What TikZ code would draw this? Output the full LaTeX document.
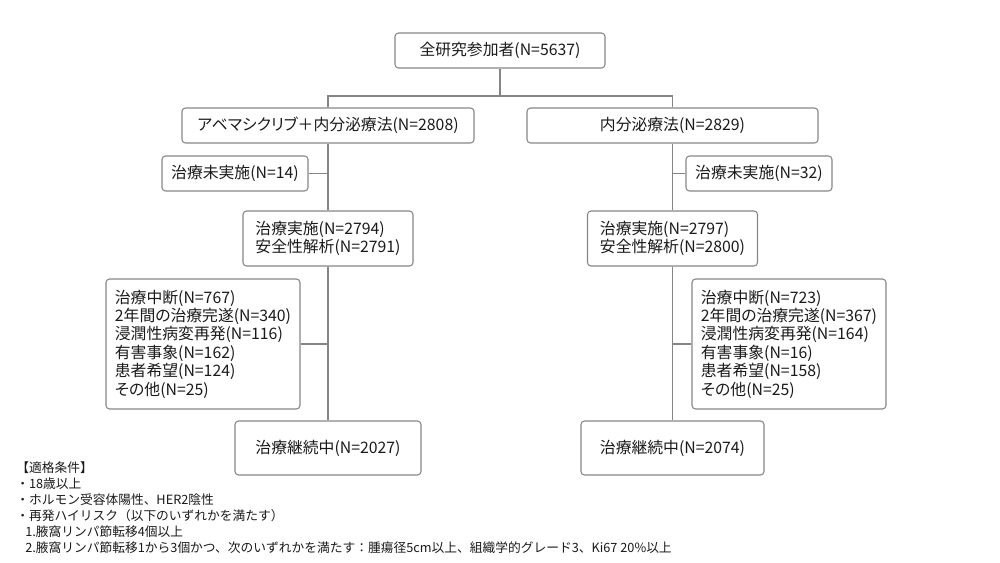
\documentclass[tikz,border=0pt]{standalone}
\usepackage{fontspec}
\setmainfont{Noto Sans CJK JP}
\newfontfamily\boxfont[RawFeature=+palt]{Noto Sans CJK JP}
\usetikzlibrary{positioning}
\definecolor{linegray}{HTML}{858585}
\definecolor{textdark}{HTML}{1A1A1A}
\begin{document}
\begin{tikzpicture}[node distance=2cm,auto]
	\tikzstyle{box1} = [rectangle,rounded corners=2pt,draw=linegray,line width=0.6pt,text=textdark,
	font=\boxfont\fontsize{9}{10.45}\selectfont,inner sep=2pt,minimum height=0.7cm,text centered]
	\tikzstyle{box2} = [box1,align=left]
	\tikzstyle{line} = [draw=linegray,line width=0.6pt]
	\useasboundingbox (0,0) rectangle (20,-11.26);
	\node (all) [box1,minimum width=4.2cm] at (10,-1.01) {全研究参加者(N=5637)};
	\node (armA) [box1,minimum width=5.84cm,below of=all,xshift=-3.44cm,node distance=1.5cm] {アベマシクリブ＋内分泌療法(N=2808)};
	\node (armB) [box1,minimum width=5.82cm,below of=all,xshift=3.45cm,node distance=1.5cm] {内分泌療法(N=2829)};
	\node (noA) [box1,minimum width=2.92cm,below of=armA,xshift=-1.86cm,node distance=0.96cm] {治療未実施(N=14)};
	\node (noB) [box1,minimum width=2.92cm,below of=armB,xshift=1.73cm,node distance=0.96cm] {治療未実施(N=32)};
	\node (txA) [box2,minimum width=3.4cm,minimum height=1.1cm,below of=armA,node distance=2.26cm] {治療実施(N=2794)\\安全性解析(N=2791)};
	\node (txB) [box2,minimum width=3.4cm,minimum height=1.1cm,below of=armB,node distance=2.26cm] {治療実施(N=2797)\\安全性解析(N=2800)};
	\node (stopA) [box2,minimum width=3.88cm,minimum height=2.6cm,below of=txA,xshift=-2.5cm,node distance=2.11cm]
	{治療中断(N=767)\\2年間の治療完遂(N=340)\\浸潤性病変再発(N=116)\\有害事象(N=162)\\患者希望(N=124)\\その他(N=25)};
	\node (stopB) [box2,minimum width=3.88cm,minimum height=2.6cm,below of=txB,xshift=2.33cm,node distance=2.11cm]
	{治療中断(N=723)\\2年間の治療完遂(N=367)\\浸潤性病変再発(N=164)\\有害事象(N=16)\\患者希望(N=158)\\その他(N=25)};
	\node (contA) [box1,minimum width=3.72cm,minimum height=1.08cm,below of=txA,node distance=4.19cm] {治療継続中(N=2027)};
	\node (contB) [box1,minimum width=3.66cm,minimum height=1.08cm,below of=txB,node distance=4.19cm] {治療継続中(N=2074)};
	% connectors
	\coordinate (fork) at (10,-1.92);
	\draw[line] (all.south) -- (fork);
	\draw[line] (armA.north) |- (fork) -| (armB.north);
	\draw[line] (armA.south) -- (txA.north);
	\draw[line] (armB.south) -- (txB.north);
	\draw[line] (txA.south) -- (contA.north);
	\draw[line] (txB.south) -- (contB.north);
	\draw[line] (noA.east) -- (noA.east -| armA.south);
	\draw[line] (noB.west) -- (noB.west -| armB.south);
	\draw[line] (stopA.east) -- (stopA.east -| txA.south);
	\draw[line] (stopB.west) -- (stopB.west -| txB.south);
	% eligibility
	\node (cond) [anchor=north west,inner sep=0pt,align=left,text=textdark,font=\fontsize{7.25}{9.1}\selectfont] at (0.32,-9.22)
	{【適格条件】\\・18歳以上\\・ホルモン受容体陽性、HER2陰性\\・再発ハイリスク（以下のいずれかを満たす）\\
	\hspace*{0.18cm}1.腋窩リンパ節転移4個以上\\
	\hspace*{0.18cm}2.腋窩リンパ節転移1から3個かつ、次のいずれかを満たす：腫瘍径5cm以上、組織学的グレード3、Ki67 20\%以上};
\end{tikzpicture}
\end{document}
